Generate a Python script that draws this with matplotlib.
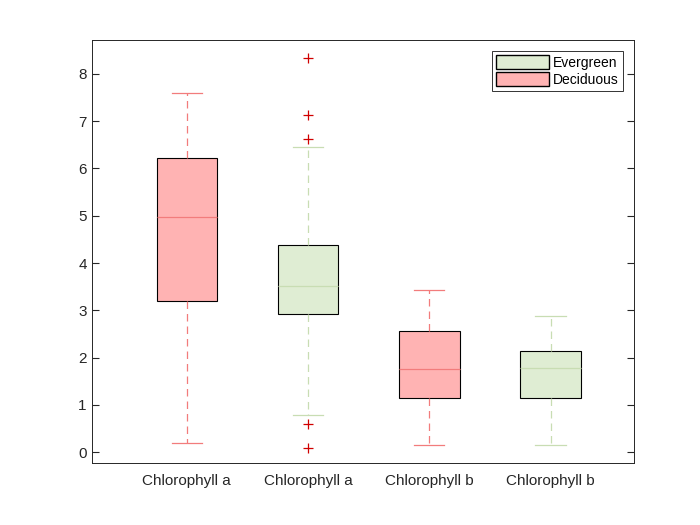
import matplotlib
matplotlib.use('Agg')
import matplotlib.pyplot as plt
from matplotlib.patches import Patch

plt.rcParams['font.family'] = ['Liberation Sans', 'DejaVu Sans']

labels = ['Chlorophyll a', 'Chlorophyll a', 'Chlorophyll b', 'Chlorophyll b']
groups = ['Deciduous', 'Evergreen', 'Deciduous', 'Evergreen']
whislo = [0.20, 0.78, 0.15, 0.15]
q1 = [3.20, 2.92, 1.15, 1.15]
med = [4.97, 3.52, 1.76, 1.78]
q3 = [6.22, 4.38, 2.56, 2.13]
whishi = [7.60, 6.45, 3.42, 2.87]
fliers = [[], [8.33, 7.13, 6.63, 0.60, 0.08], [], []]

fill = {'Deciduous': '#FFB3B3', 'Evergreen': '#DFEDD3'}
line = {'Deciduous': '#F27C7C', 'Evergreen': '#C8DDB3'}

fig = plt.figure(figsize=(7, 5.25), dpi=100)
ax = fig.add_axes([0.131, 0.118, 0.775, 0.806])

for i in range(len(labels)):
    st = dict(whislo=whislo[i], q1=q1[i], med=med[i], q3=q3[i],
              whishi=whishi[i], fliers=fliers[i], label=labels[i])
    g = groups[i]
    ax.bxp([st], positions=[i + 1], widths=0.5, capwidths=0.25,
           patch_artist=True, showfliers=True,
           boxprops=dict(facecolor=fill[g], edgecolor='black', linewidth=0.8),
           medianprops=dict(color=line[g], linewidth=0.9),
           whiskerprops=dict(color=line[g], linestyle=(0, (6, 4)), linewidth=0.9),
           capprops=dict(color=line[g], linewidth=0.9),
           flierprops=dict(marker='+', markeredgecolor='#D00000', markersize=7,
                           markeredgewidth=0.9, linestyle='none'))

ax.set_xticks(range(1, len(labels) + 1))
ax.set_xticklabels(labels)
ax.set_xlim(0.215, 4.69)
ax.set_ylim(-0.23, 8.72)
ax.set_yticks(range(0, 9))
ax.tick_params(direction='in', top=True, right=True, labelsize=11,
               colors='#262626', length=5)
ax.tick_params(axis='x', length=0, pad=8)
for s in ax.spines.values():
    s.set_color('#262626')
    s.set_linewidth(0.7)

handles = [Patch(facecolor=fill['Evergreen'], edgecolor='black', label='Evergreen'),
           Patch(facecolor=fill['Deciduous'], edgecolor='black', label='Deciduous')]
leg = ax.legend(handles=handles, loc='upper right', fontsize=10, fancybox=False,
                edgecolor='black', handlelength=3.8, handleheight=1.1,
                borderpad=0.3, labelspacing=0.2, handletextpad=0.3,
                borderaxespad=0.8)
leg.get_frame().set_linewidth(0.7)

fig.savefig('out.png', dpi=100)
